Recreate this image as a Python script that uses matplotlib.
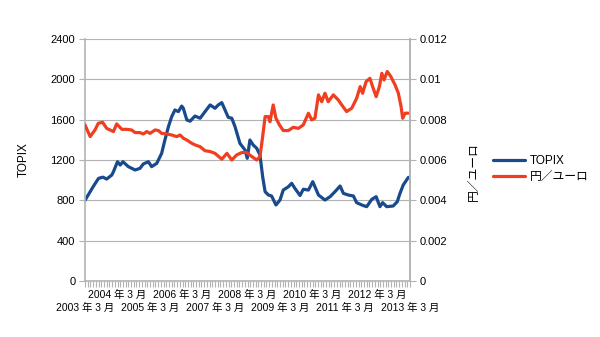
import matplotlib
matplotlib.use("Agg")
import matplotlib.pyplot as plt
from matplotlib.ticker import FixedLocator, MultipleLocator, FuncFormatter

# ---- data (months since 2003-03) ----
topix_months = [0, 3, 5, 6.6, 8, 9.9, 10.5, 12, 13, 14, 16, 18.5, 20.3, 21.5, 23.4, 24.6, 26.5,
                28.3, 29.5, 30.8, 32, 33.2, 34.5, 35.7, 36.3, 37.6, 38.8, 40.6, 42.5, 44.3, 46.2,
                48, 49.2, 50.5, 51.7, 52.9, 54.2, 55.4, 57.2, 59.1, 59.9, 60.9, 62.1, 63.4, 64.6,
                65.6, 66.5, 67.7, 68.9, 70.5, 72, 73.2, 75.1, 76.3, 77.5, 79.4, 80.6, 82.5, 84.1,
                86.2, 88.6, 90.5, 92.3, 94.2, 95.4, 97.2, 99.1, 100.3, 102.2, 104, 105.9, 107.5,
                108.9, 109.9, 111.4, 113.8, 115.3, 116.3, 117.5, 119.4]
topix_values = [800, 935, 1018, 1030, 1011, 1051, 1084, 1183, 1150, 1183, 1134, 1101, 1117, 1160,
                1183, 1134, 1167, 1266, 1398, 1530, 1629, 1696, 1680, 1735, 1713, 1597, 1585, 1636,
                1614, 1679, 1746, 1713, 1746, 1769, 1696, 1623, 1614, 1530, 1365, 1299, 1217, 1398,
                1349, 1316, 1250, 1034, 886, 853, 843, 754, 803, 902, 935, 969, 919, 848, 910, 902,
                985, 853, 803, 836, 886, 942, 869, 853, 843, 777, 754, 737, 810, 836, 737, 777, 737,
                744, 787, 869, 952, 1028]

yen_months = [0, 1.9, 3.7, 4.9, 6.5, 8, 9.2, 10.5, 11.7, 13.6, 15.4, 17.2, 18.5, 20.3, 21.5, 22.8,
              24, 25.9, 27.1, 28.3, 30.2, 32, 33.9, 35.1, 36.3, 37.6, 39.4, 40.6, 42.5, 44.3, 46.2,
              48, 50.5, 52.4, 54.2, 56, 57.9, 59.7, 61.6, 63.4, 64.6, 65.6, 66.5, 67.7, 68.3, 69.5,
              70.5, 71.8, 73.2, 75.1, 76.9, 78.8, 80.6, 82.5, 83.7, 84.9, 86.2, 87.4, 88.6, 89.8,
              91.7, 93.5, 94.8, 96.6, 98.5, 100.3, 101.6, 102.5, 103.8, 105.2, 106.2, 107.5, 108.7,
              109.6, 110.4, 111.6, 112.9, 114.5, 115.7, 116.7, 117.3, 118.2, 119.4]
yen_values = [0.00774, 0.00716, 0.00749, 0.00782, 0.00787, 0.00757, 0.00749, 0.00741, 0.00779,
              0.00752, 0.00752, 0.00749, 0.00736, 0.00736, 0.00729, 0.00741, 0.00732, 0.00749,
              0.00746, 0.00732, 0.00729, 0.00724, 0.00716, 0.00724, 0.00708, 0.00699, 0.00683,
              0.00675, 0.00666, 0.00646, 0.00642, 0.00633, 0.00604, 0.00633, 0.00600, 0.00625,
              0.00637, 0.00637, 0.00617, 0.00600, 0.00617, 0.00716, 0.00815, 0.00815, 0.00790,
              0.00873, 0.00807, 0.00774, 0.00746, 0.00746, 0.00762, 0.00757, 0.00774, 0.00832,
              0.00799, 0.00807, 0.00923, 0.00889, 0.00931, 0.00889, 0.00923, 0.00898, 0.00873,
              0.00840, 0.00857, 0.00906, 0.00964, 0.00931, 0.00989, 0.01005, 0.00964, 0.00914,
              0.00964, 0.01030, 0.00997, 0.01039, 0.01014, 0.00972, 0.00931, 0.00865, 0.00807,
              0.00832, 0.00832]

year_labels = [f"{y} 年 3 月" for y in range(2003, 2014)]
left_ticks = [0, 400, 800, 1200, 1600, 2000, 2400]
right_ticks = [0, 0.002, 0.004, 0.006, 0.008, 0.01, 0.012]

FAM = ["Liberation Sans", "Noto Sans CJK JP", "DejaVu Sans"]
plt.rcParams["font.family"] = FAM

GRID = "#b3b3b3"
BLUE = "#184a8c"
RED = "#f03f20"

fig = plt.figure(figsize=(6, 3.37), dpi=100)
ax = fig.add_axes([85 / 600, 1 - 281 / 337, 325 / 600, 242 / 337])
ax2 = ax.twinx()

l1, = ax.plot(topix_months, topix_values, color=BLUE, lw=2.3, solid_joinstyle="round",
              solid_capstyle="round", label="TOPIX")
l2, = ax2.plot(yen_months, yen_values, color=RED, lw=2.3, solid_joinstyle="round",
               solid_capstyle="round", label="円／ユーロ")

ax.set_xlim(0, 120)
ax.set_ylim(0, 2400)
ax2.set_ylim(0, 0.012)

ax.set_yticks(left_ticks)
ax2.set_yticks(right_ticks)
ax2.yaxis.set_major_formatter(FuncFormatter(lambda v, p: "0" if v == 0 else f"{v:g}"))

# upper row: 2004, 2006, ...; lower row: 2003, 2005, ...
year_pos = [12 * i for i in range(len(year_labels))]
lower_pos = [p for i, p in enumerate(year_pos) if i % 2 == 0]
lower_lab = [s for i, s in enumerate(year_labels) if i % 2 == 0]

ax.xaxis.set_major_locator(FixedLocator(year_pos))
ax.xaxis.set_minor_locator(MultipleLocator(1))
ax.set_xticklabels([s if i % 2 == 1 else "" for i, s in enumerate(year_labels)])

sec = ax.secondary_xaxis("bottom")
sec.set_xticks(lower_pos)
sec.set_xticklabels(lower_lab)
sec.tick_params(axis="x", length=0, pad=16, labelsize=7.5)
sec.spines["bottom"].set_visible(False)

ax.grid(axis="y", color=GRID, lw=0.8)
ax.set_axisbelow(True)

for a in (ax, ax2):
    a.spines["top"].set_visible(False)
    for side in ("left", "right", "bottom"):
        a.spines[side].set_color(GRID)
        a.spines[side].set_linewidth(1.2)
ax2.spines["left"].set_visible(False)
ax2.spines["bottom"].set_visible(False)

ax.tick_params(axis="x", which="both", length=4, width=0.8, color=GRID, pad=2.5, labelsize=7.5)
ax.tick_params(axis="y", length=4, width=0.8, color=GRID, labelsize=8, pad=3)
ax2.tick_params(axis="y", length=4, width=0.8, color=GRID, labelsize=8, pad=3)

ax.set_ylabel("TOPIX", fontsize=8.5)
ax.yaxis.set_label_coords(-0.169, 0.5)
ax2.set_ylabel("円／ユーロ", fontsize=8.5, rotation=90)
ax2.yaxis.set_label_coords(1.178, 0.45)

fig.legend(handles=[l1, l2], loc="center left", bbox_to_anchor=(493 / 600, 1 - 169 / 337),
           frameon=False, fontsize=8.5, handlelength=2.7, handletextpad=0.45,
           labelspacing=0.35, borderpad=0, borderaxespad=0)

fig.savefig("out.png", dpi=100)
